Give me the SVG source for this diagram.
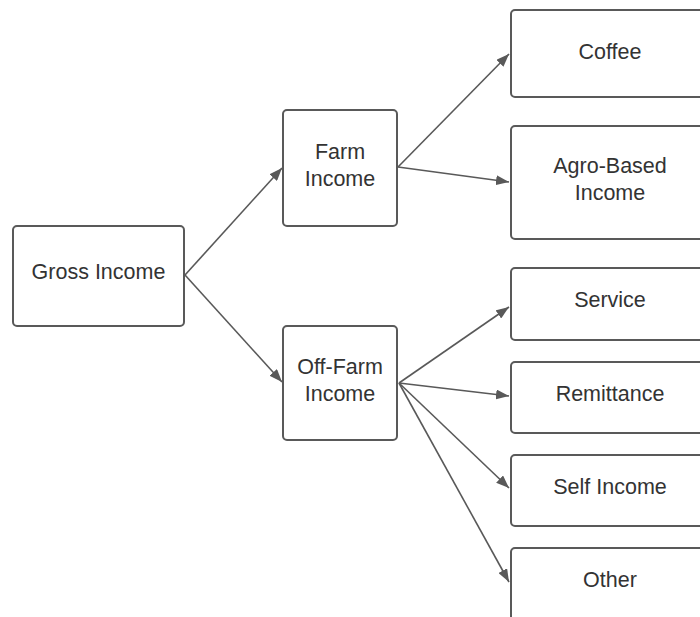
<svg xmlns="http://www.w3.org/2000/svg" width="700" height="617" viewBox="0 0 700 617">
<style>
.box{fill:#fff;stroke:#595959;stroke-width:2}
.lbl{font-family:"Liberation Sans",Arial,sans-serif;font-size:21.5px;fill:#333;text-anchor:middle}
.edge{fill:none;stroke:#595959;stroke-width:1.6}
</style>
<defs>
<marker id="ah" markerUnits="userSpaceOnUse" markerWidth="14" markerHeight="10" refX="13" refY="5" orient="auto">
<path d="M0,0 L13,5 L0,10 Z" fill="#595959"/>
</marker>
</defs>
<rect width="700" height="617" fill="#fff"/>
<g id="connectors">
<path class="edge" marker-end="url(#ah)" d="M185,275 L282,168"/>
<path class="edge" marker-end="url(#ah)" d="M185,275 L282,382"/>
<path class="edge" marker-end="url(#ah)" d="M398,167 L509,54"/>
<path class="edge" marker-end="url(#ah)" d="M398,167 L509,182"/>
<path class="edge" marker-end="url(#ah)" d="M399,383 L509,307"/>
<path class="edge" marker-end="url(#ah)" d="M399,383 L509,396"/>
<path class="edge" marker-end="url(#ah)" d="M399,383 L509,488"/>
<path class="edge" marker-end="url(#ah)" d="M399,383 L509,582"/>
</g>
<g id="gross"><rect class="box" x="13" y="226" width="171" height="100" rx="4"/><text class="lbl" x="98.5" y="279">Gross Income</text></g>
<g id="farm"><rect class="box" x="283" y="110" width="114" height="116" rx="4"/><text class="lbl" x="340" y="159">Farm</text><text class="lbl" x="340" y="186">Income</text></g>
<g id="offfarm"><rect class="box" x="283" y="326" width="114" height="114" rx="4"/><text class="lbl" x="340" y="374">Off-Farm</text><text class="lbl" x="340" y="401">Income</text></g>
<g id="coffee"><rect class="box" x="511" y="10" width="198" height="87" rx="4"/><text class="lbl" x="610" y="59">Coffee</text></g>
<g id="agro"><rect class="box" x="511" y="126" width="198" height="113" rx="4"/><text class="lbl" x="610" y="173">Agro-Based</text><text class="lbl" x="610" y="200">Income</text></g>
<g id="service"><rect class="box" x="511" y="268" width="198" height="72" rx="4"/><text class="lbl" x="610" y="307">Service</text></g>
<g id="remittance"><rect class="box" x="511" y="362" width="198" height="71" rx="4"/><text class="lbl" x="610" y="401">Remittance</text></g>
<g id="self"><rect class="box" x="511" y="455" width="198" height="71" rx="4"/><text class="lbl" x="610" y="494">Self Income</text></g>
<g id="other"><rect class="box" x="511" y="548" width="198" height="80" rx="4"/><text class="lbl" x="610" y="587">Other</text></g>
</svg>
